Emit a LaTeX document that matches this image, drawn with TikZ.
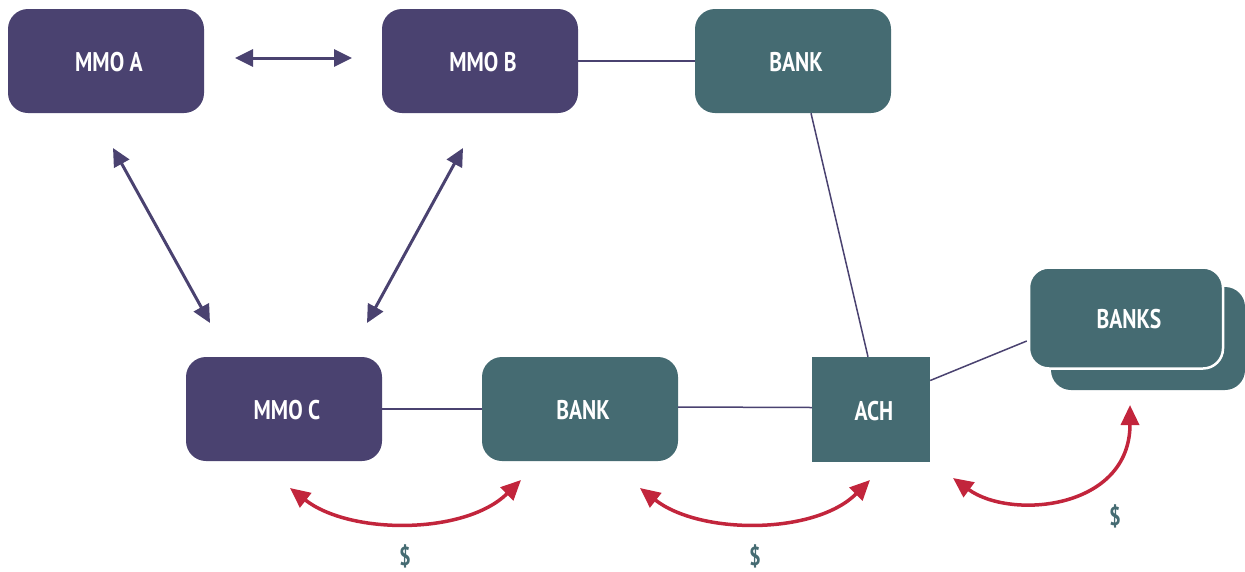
\documentclass[tikz,border=0pt]{standalone}
\usepackage{fontspec}
\setmainfont[BoldFeatures={FakeStretch=0.8}]{PT Sans}
\usetikzlibrary{arrows.meta,calc}
\definecolor{mmopurple}{HTML}{4A4270}
\definecolor{bankteal}{HTML}{456B72}
\definecolor{flowred}{HTML}{C2253C}
\tikzset{
  box/.style={rounded corners=20pt, minimum width=196pt, minimum height=104pt,
    inner sep=0pt, text=white, font=\bfseries\fontsize{27}{27}\selectfont,
    text height=21.5pt, text depth=0pt,
    execute at begin node={\hspace*{6pt}}},
  mmo/.style={box, fill=mmopurple},
  bank/.style={box, fill=bankteal},
  link/.style={draw=mmopurple, line width=1.5pt},
  talk/.style={draw=mmopurple, line width=3pt,
    {Triangle[length=18pt,width=17pt]}-{Triangle[length=18pt,width=17pt]}},
  money/.style={draw=flowred, line width=3.5pt,
    {Triangle[length=20pt,width=18pt]}-{Triangle[length=20pt,width=18pt]}},
  dollar/.style={text=bankteal, inner sep=0pt, font=\bfseries\fontsize{26}{26}\selectfont}
}
\begin{document}
\begin{tikzpicture}[x=1pt,y=-1pt]
\useasboundingbox (0,0) rectangle (1245,571);

% institutions
\node[mmo]  (mmoA)  at (106,61)  {MMO A};
\node[mmo]  (mmoB)  at (480,61)  {MMO B};
\node[bank] (bankT) at (793,61)  {BANK};
\node[mmo]  (mmoC)  at (284,409) {MMO C};
\node[bank] (bankB) at (580,409) {BANK};
\node[bank, rounded corners=0pt, minimum width=118pt, minimum height=105pt] (ach) at (871,409.5) {ACH};

% stacked banks
\node[bank, minimum width=194pt, minimum height=103pt] (banksBack) at (1148,338.5) {};
\node[bank, minimum width=194pt, minimum height=101pt, draw=white, line width=2.5pt] (banks) at (1126,318) {BANKS};

% plain connections
\draw[link] (mmoB.east) -- (bankT.west);
\draw[link] ($(bankT.south)+(18,0)$) -- ($(ach.north)+(-3,0)$);
\draw[link] (mmoC.east) -- (bankB.west);
\draw[link] ($(bankB.east)+(0,-2)$) -- ($(ach.west)+(0,-2)$);
\draw[link] ($(ach.east)+(0,-29)$) -- ($(banks.west)+(-1,23)$);

% messaging between money market operators
\coordinate (abL) at (235,58);
\coordinate (abR) at (352,58);
\coordinate (acT) at (113,148);
\coordinate (acB) at (210,323);
\coordinate (bcT) at (463,148);
\coordinate (bcB) at (367,323);
\draw[talk] (abL) -- (abR);
\draw[talk] (acT) -- (acB);
\draw[talk] (bcT) -- (bcB);

% money flows
\coordinate (m1a) at (290,488);
\coordinate (m1b) at (521,480);
\coordinate (m2a) at (640,488);
\coordinate (m2b) at (870,480);
\coordinate (m3a) at (953,478);
\coordinate (m3b) at (1130,405);
\draw[money] (m1a) .. controls (350,535) and (465,535) .. (m1b);
\draw[money] (m2a) .. controls (700,535) and (815,535) .. (m2b);
\draw[money] (m3a) .. controls (1010,520) and (1130,510) .. (m3b);

\node[dollar] (d1) at (405,556) {\$};
\node[dollar] (d2) at (755,556) {\$};
\node[dollar] (d3) at (1115,516) {\$};
\end{tikzpicture}
\end{document}
